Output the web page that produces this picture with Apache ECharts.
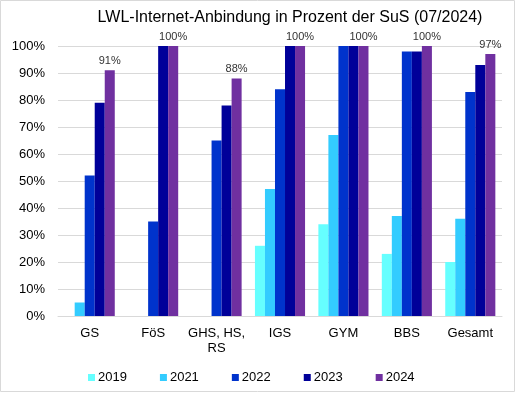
<!DOCTYPE html>
<html>
<head>
<meta charset="utf-8">
<script src="https://cdn.jsdelivr.net/npm/echarts@6/dist/echarts.min.js"></script>
<style>html,body{margin:0;padding:0;background:#fff;}#c{width:516px;height:393px;}</style>
</head>
<body>
<div id="c"></div>
<script>
const categories = ["GS", "FöS", "GHS, HS, RS", "IGS", "GYM", "BBS", "Gesamt"];
const years = ["2019", "2021", "2022", "2023", "2024"];
const v2019 = [0, 0, 0, 26, 34, 23, 20];
const v2021 = [5, 0, 0, 47, 67, 37, 36];
const v2022 = [52, 35, 65, 84, 100, 98, 83];
const v2023 = [79, 100, 78, 100, 100, 98, 93];
const v2024 = [91, 100, 88, 100, 100, 100, 97];
const yTicks = [0, 10, 20, 30, 40, 50, 60, 70, 80, 90, 100];

const colors = ["#66FFFF", "#33CCFF", "#0033CC", "#000099", "#7030A0"];
const seriesData = [v2019, v2021, v2022, v2023, v2024];
const font = "'Liberation Sans', Arial, sans-serif";

const chart = echarts.init(document.getElementById('c'));
chart.setOption({
  animation: false,
  title: {
    text: "LWL-Internet-Anbindung in Prozent der SuS (07/2024)",
    left: 285, top: 5, textAlign: 'center',
    textStyle: { fontFamily: font, fontSize: 16, fontWeight: 'normal', color: '#000' }
  },
  graphic: [{
    type: 'rect', shape: { x: 0.5, y: 0.5, width: 514, height: 391 },
    style: { fill: 'none', stroke: '#d9d9d9', lineWidth: 1 }, silent: true, z: -1
  }],
  grid: { left: 58, right: 14, top: 46, bottom: 77, containLabel: false },
  legend: {
    bottom: 4, left: 83,
    itemWidth: 7, itemHeight: 7, itemGap: 33,
    icon: 'rect',
    textStyle: { fontFamily: font, fontSize: 13, color: '#000', padding: [0, 0, 0, -2] },
    data: years
  },
  xAxis: {
    type: 'category', data: categories,
    axisLine: { lineStyle: { color: '#d9d9d9' } },
    axisTick: { show: false },
    axisLabel: {
      fontFamily: font, fontSize: 13, color: '#000', margin: 10, lineHeight: 15, interval: 0,
      formatter: v => v.replace(', RS', ',\nRS')
    }
  },
  yAxis: {
    type: 'value', min: yTicks[0], max: yTicks[yTicks.length - 1], interval: 10,
    axisLine: { show: false }, axisTick: { show: false },
    splitLine: { lineStyle: { color: '#d9d9d9' } },
    axisLabel: { fontFamily: font, fontSize: 13, color: '#000', margin: 13, formatter: '{value}%' }
  },
  series: years.map((y, i) => ({
    name: y, type: 'bar', data: seriesData[i],
    barGap: '0%', barCategoryGap: '21%',
    itemStyle: { color: colors[i] },
    label: i === 4 ? {
      show: true, position: 'top', distance: 4, formatter: '{c}%',
      fontFamily: font, fontSize: 11, color: '#333'
    } : { show: false }
  }))
});
</script>
</body>
</html>
